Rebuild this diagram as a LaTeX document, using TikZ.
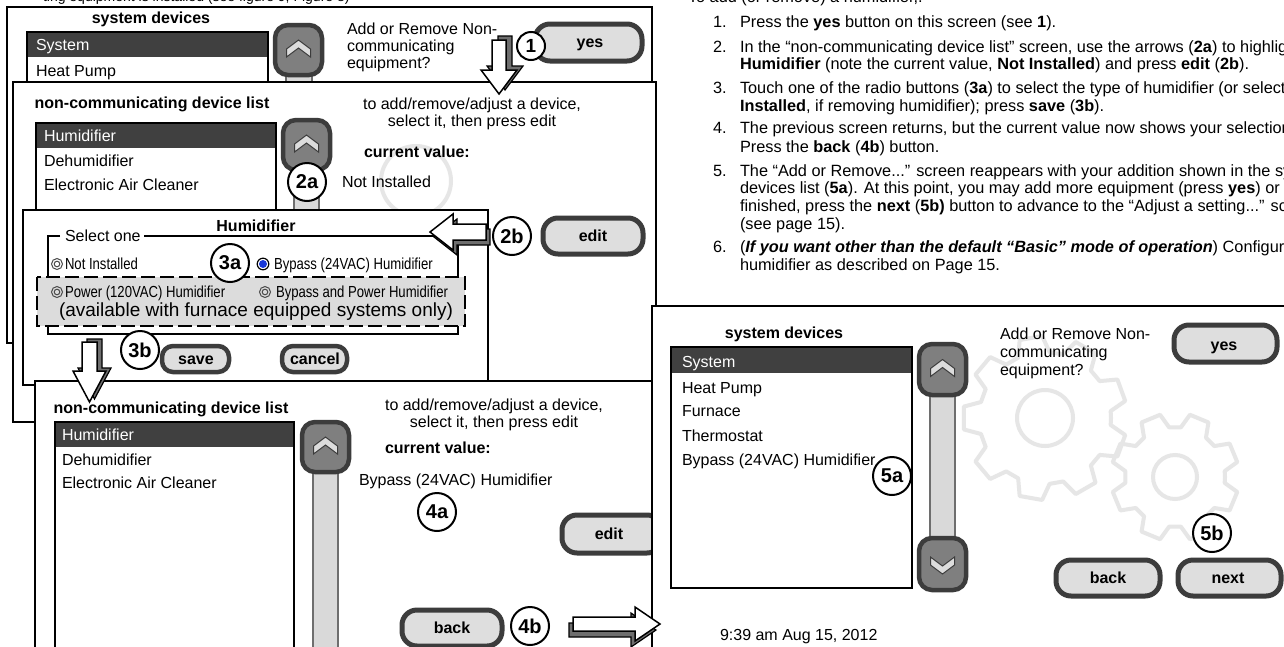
\documentclass[tikz,border=0pt]{standalone}
\usepackage{fontspec}
\setmainfont{Liberation Sans}
\newfontfamily\narrowfont[FakeStretch=0.82]{Liberation Sans}
\definecolor{hl}{HTML}{404040}
\definecolor{btnfill}{HTML}{DEDEDE}
\definecolor{btnline}{HTML}{3C3C3C}
\definecolor{sfill}{HTML}{7F7F7F}
\definecolor{trkfill}{HTML}{D9D9D9}
\definecolor{trkline}{HTML}{6E6E6E}
\definecolor{chevfill}{HTML}{DCDCDC}
\definecolor{wm}{HTML}{E6E6E6}
\definecolor{shadowgray}{HTML}{6E6E6E}
\definecolor{dashfill}{HTML}{DCDCDC}
\definecolor{radioblue}{HTML}{1838D8}
\definecolor{radiogray}{HTML}{4A4A4A}
\tikzset{
  chevup/.pic={\filldraw[fill=chevfill,draw=btnline,line width=1pt,line join=miter]
     (-12,7) -- (-12,-1) -- (0,-10) -- (12,-1) -- (12,7) -- (0,-2) -- cycle;},
  chevdn/.pic={\filldraw[fill=chevfill,draw=btnline,line width=1pt,line join=miter]
     (-12,-7) -- (-12,1) -- (0,10) -- (12,1) -- (12,-7) -- (0,2) -- cycle;},
  radiooff/.pic={\draw[radiogray,line width=1pt] (0,0) circle (5.5) (0,0) circle (2.8);},
  radioon/.pic={\filldraw[draw=black,fill=white,line width=1.2pt] (0,0) circle (5.8);
     \fill[radioblue] (0,0) circle (4);}
}
\newcommand\mygear[6]{%
  \begin{scope}[shift={(#1,#2)}]
  \pgfmathsetmacro\mygs{360/#6}
  \draw[wm,line width=4pt,line join=round] (0:#3)
    \foreach \k in {1,...,#6}{
      -- ({(\k-1)*\mygs+0.15*\mygs}:#3) -- ({(\k-1)*\mygs+0.3*\mygs}:#4)
      -- ({(\k-1)*\mygs+0.7*\mygs}:#4) -- ({(\k-1)*\mygs+0.85*\mygs}:#3) } -- cycle;
  \draw[wm,line width=4pt] (0,0) circle (#5);
  \end{scope}}
\begin{document}
\begin{tikzpicture}[x=1pt,y=-1pt,
  every node/.style={inner sep=0pt,outer sep=0pt},
  tx/.style={anchor=west,font=\fontsize{16}{18}\selectfont,text height=11.5pt,text depth=0pt},
  rt/.style={tx,font=\fontsize{16.3}{18}\selectfont},
  tc/.style={tx,anchor=center},
  tb/.style={tc,font=\fontsize{16}{18}\selectfont\bfseries},
  txb/.style={tx,font=\fontsize{16}{18}\selectfont\bfseries},
  nw/.style={tx,font=\fontsize{16}{18}\selectfont\narrowfont},
  wt/.style={tx,text=white},
  scrn/.style={draw=black,line width=2pt,fill=white},
  lbox/.style={draw=black,line width=2pt},
  btn/.style={draw=btnline,line width=5pt,fill=btnfill,rounded corners=15pt},
  smallbtn/.style={draw=btnline,line width=4.5pt,fill=btnfill,rounded corners=11pt},
  sbtn/.style={draw=btnline,line width=4.5pt,fill=sfill,rounded corners=13pt},
  trk/.style={draw=trkline,line width=2pt,fill=trkfill},
  lab/.style={circle,draw=black,line width=2pt,fill=white,minimum size=38pt,
     font=\fontsize{20}{20}\selectfont\bfseries},
  dashbox/.style={draw=black,line width=2.5pt,fill=dashfill,dash pattern=on 14pt off 5pt},
  ashadow/.style={fill=shadowgray,draw=black,line width=1.2pt,line join=miter},
  abody/.style={fill=white,draw=black,line width=1.5pt,line join=miter}
]
\useasboundingbox (0,0) rectangle (1284,646);
\clip (0,0) rectangle (1284,646);
\fill[white] (0,0) rectangle (1284,646);

% clipped texts at the top edge
\node[tx,font=\fontsize{14}{16}\selectfont,text height=10pt] (topL) at (43,-3.5) {ting equipment is installed (see figure 9, Figure 8)};
\node[rt] (topR) at (688,-3.5) {To add (or remove) a humidifier,.};

% ---------------- Screen 1 ----------------
\draw[scrn] (7,7) rectangle (652,343);
\node[tb] (s1title) at (151,18) {system devices};
\fill[white] (27,32) rectangle (268,343);
\fill[hl] (27,32) rectangle (268,57);
\draw[lbox] (27,32) rectangle (268,343);
\node[wt] (s1i1) at (36,45) {System};
\node[tx] (s1i2) at (36,71) {Heat Pump};
\draw[trk] (286,75) rectangle (312,95);
\draw[sbtn] (275,25) rectangle (322,75);
\pic at (298.5,50) {chevup};
\node[tx] (s1q1) at (347,29) {Add or Remove Non-};
\node[tx] (s1q2) at (347,46) {communicating};
\node[tx] (s1q3) at (347,63) {equipment?};
\draw[btn] (535,24) rectangle (642,61);
\node[tb] (s1yes) at (590,42) {yes};
\node[lab,minimum size=28pt,font=\fontsize{19}{19}\selectfont\bfseries] (c1) at (531,46) {1};

% ---------------- Screen 2 ----------------
\draw[scrn] (13,82) rectangle (656,422);
\draw[wm,line width=4pt] (416,181) circle (35);
\node[tb] (s2title) at (152,103) {non-communicating device list};
\node[tc] (s2h1) at (472,104) {to add/remove/adjust a device,};
\node[tc] (s2h2) at (472,121) {select it, then press edit};
\node[txb] (s2cv) at (364,152) {current value:};
\node[tx] (s2val) at (342,182) {Not Installed};
\fill[white] (36,123) rectangle (276,422);
\fill[hl] (36,123) rectangle (276,148);
\draw[lbox] (36,123) rectangle (276,422);
\node[wt] (s2i1) at (44,136) {Humidifier};
\node[tx] (s2i2) at (44,161) {Dehumidifier};
\node[tx] (s2i3) at (44,185) {Electronic Air Cleaner};
\draw[trk] (294,170) rectangle (319,422);
\draw[sbtn] (283,120) rectangle (330,170);
\pic at (306.5,145) {chevup};
\draw[btn] (543,218) rectangle (643,254);
\node[tb] (s2edit) at (593,236) {edit};
\node[lab] (c2a) at (307,182) {2a};
\node[lab] (c2b) at (512,236) {2b};

% arrow 1 (yes -> screen 2)
\path[ashadow,shift={(6,-4)}] (492,40) -- (506,40) -- (506,70) -- (517,70) -- (499,94) -- (481,70) -- (492,70) -- cycle;
\path[abody] (492,40) -- (506,40) -- (506,70) -- (517,70) -- (499,94) -- (481,70) -- (492,70) -- cycle;

% ---------------- Humidifier dialog ----------------
\draw[scrn] (23,210) rectangle (488,385);
\node[tb] (dtitle) at (256,226) {Humidifier};
\draw[black,line width=2pt] (60,236) -- (48,236) -- (48,334) -- (458,334) -- (458,236) -- (144,236);
\node[tx] (dsel) at (65,236) {Select one};
\pic at (57,264) {radiooff};
\node[nw] (dopt1) at (65,264) {Not Installed};
\pic at (263,264) {radioon};
\node[nw] (dopt2) at (274,264) {Bypass (24VAC) Humidifier};
\draw[dashbox] (37,277) rectangle (465,326);
\pic at (57,292) {radiooff};
\node[nw] (dopt3) at (65,292) {Power (120VAC) Humidifier};
\pic at (265,292) {radiooff};
\node[nw] (dopt4) at (276,292) {Bypass and Power Humidifier};
\node[tc,font=\fontsize{19}{20}\selectfont,text height=13.6pt] (dnote) at (256,310) {(available with furnace equipped systems only)};
\draw[smallbtn] (162,346) rectangle (229,372);
\node[tb] (dsave) at (196,359) {save};
\draw[smallbtn] (282,346) rectangle (347,372);
\node[tb] (dcancel) at (315,359) {cancel};
\node[lab] (c3a) at (230,263) {3a};
\node[lab] (c3b) at (140,350) {3b};

% arrow 2b (edit -> dialog)
\path[ashadow,shift={(4,5)}] (486,224) -- (486,240) -- (453,240) -- (453,250) -- (430,232) -- (453,214) -- (453,224) -- cycle;
\path[abody] (486,224) -- (486,240) -- (453,240) -- (453,250) -- (430,232) -- (453,214) -- (453,224) -- cycle;

% ---------------- Screen 4 ----------------
\draw[scrn] (35,381) rectangle (652,700);
\node[tb] (s4title) at (171,408) {non-communicating device list};
\node[tc] (s4h1) at (494,405) {to add/remove/adjust a device,};
\node[tc] (s4h2) at (494,422) {select it, then press edit};
\node[txb] (s4cv) at (385,448) {current value:};
\node[tx] (s4val) at (359,480) {Bypass (24VAC) Humidifier};
\fill[white] (55,422) rectangle (294,700);
\fill[hl] (55,422) rectangle (294,447);
\draw[lbox] (55,422) rectangle (294,700);
\node[wt] (s4i1) at (62,435) {Humidifier};
\node[tx] (s4i2) at (62,460) {Dehumidifier};
\node[tx] (s4i3) at (62,483) {Electronic Air Cleaner};
\draw[trk] (313,472) rectangle (338,700);
\draw[sbtn] (302,422) rectangle (349,472);
\pic at (325.5,447) {chevup};
\draw[btn] (562,515) rectangle (662,553);
\node[tb] (s4edit) at (609,534) {edit};
\draw[btn] (402,610) rectangle (502,646);
\node[tb] (s4back) at (452,628) {back};
\node[lab] (c4a) at (437,512) {4a};
\node[lab] (c4b) at (530,626) {4b};

% arrow 3b (save -> screen 4)
\path[ashadow,shift={(5,-3)}] (82,342) -- (97,342) -- (97,371) -- (106,371) -- (89.5,402) -- (73,371) -- (82,371) -- cycle;
\path[abody] (82,342) -- (97,342) -- (97,371) -- (106,371) -- (89.5,402) -- (73,371) -- (82,371) -- cycle;

% ---------------- Screen 5 ----------------
\draw[scrn] (652,306) rectangle (1300,700);
\mygear{1045}{418}{66}{82}{28}{9}
\mygear{1175}{477}{50}{64}{22}{8}
\node[tb] (s5title) at (784,333) {system devices};
\fill[white] (671,347) rectangle (912,588);
\fill[hl] (671,347) rectangle (912,373);
\draw[lbox] (671,347) rectangle (912,588);
\node[wt] (s5i1) at (682,362) {System};
\node[tx] (s5i2) at (682,388) {Heat Pump};
\node[tx] (s5i3) at (682,411) {Furnace};
\node[tx] (s5i4) at (682,436) {Thermostat};
\node[tx] (s5i5) at (682,460) {Bypass (24VAC) Humidifier};
\draw[trk] (930,395) rectangle (955,538);
\draw[sbtn] (919,344) rectangle (966,395);
\pic at (942.5,369.5) {chevup};
\draw[sbtn] (919,538) rectangle (966,590);
\pic at (942.5,564) {chevdn};
\node[tx] (s5q1) at (1000,334) {Add or Remove Non-};
\node[tx] (s5q2) at (1000,352) {communicating};
\node[tx] (s5q3) at (1000,370) {equipment?};
\draw[btn] (1174,325) rectangle (1277,362);
\node[tb] (s5yes) at (1224,345) {yes};
\draw[btn] (1056,560) rectangle (1160,596);
\node[tb] (s5back) at (1108,578) {back};
\draw[btn] (1178,560) rectangle (1281,596);
\node[tb] (s5next) at (1228,578) {next};
\node[lab] (c5a) at (892,476) {5a};
\node[lab] (c5b) at (1212,533) {5b};
\node[tx] (s5date) at (720,635) {9:39 am Aug 15, 2012};

% arrow 4b (back -> screen 5)
\path[ashadow,shift={(-4,6)}] (573,617) -- (635,617) -- (635,607) -- (660,624) -- (635,641) -- (635,631) -- (573,631) -- cycle;
\path[abody] (573,617) -- (635,617) -- (635,607) -- (660,624) -- (635,641) -- (635,631) -- (573,631) -- cycle;

% ---------------- Instructions ----------------
\node[rt] (r1n) at (713,22) {1.};
\node[rt] (r1) at (740,22) {Press the \textbf{yes} button on this screen (see \textbf{1}).};
\node[rt] (r2n) at (713,47) {2.};
\node[rt] (r2a) at (740,47) {In the “non-communicating device list” screen, use the arrows (\textbf{2a}) to highlight};
\node[rt] (r2b) at (740,64) {\textbf{Humidifier} (note the current value, \textbf{Not Installed}) and press \textbf{edit} (\textbf{2b}).};
\node[rt] (r3n) at (713,88) {3.};
\node[rt] (r3a) at (740,88) {Touch one of the radio buttons (\textbf{3a}) to select the type of humidifier (or select \textbf{Not}};
\node[rt] (r3b) at (740,106) {\textbf{Installed}, if removing humidifier); press \textbf{save} (\textbf{3b}).};
\node[rt] (r4n) at (713,128) {4.};
\node[rt] (r4a) at (740,128) {The previous screen returns, but the current value now shows your selection.};
\node[rt] (r4b) at (740,147) {Press the \textbf{back} (\textbf{4b}) button.};
\node[rt] (r5n) at (713,171) {5.};
\node[rt] (r5a) at (740,171) {The “Add or Remove...” screen reappears with your addition shown in the system};
\node[rt] (r5b) at (740,188) {devices list (\textbf{5a}). At this point, you may add more equipment (press \textbf{yes}) or if};
\node[rt] (r5c) at (740,206) {finished, press the \textbf{next} (\textbf{5b)} button to advance to the “Adjust a setting...” screen};
\node[rt] (r5d) at (740,224) {(see page 15).};
\node[rt] (r6n) at (713,247) {6.};
\node[rt] (r6a) at (740,247) {(\textbf{\textit{If you want other than the default “Basic” mode of operation}}) Configure the};
\node[rt] (r6b) at (740,265) {humidifier as described on Page 15.};
\end{tikzpicture}
\end{document}
